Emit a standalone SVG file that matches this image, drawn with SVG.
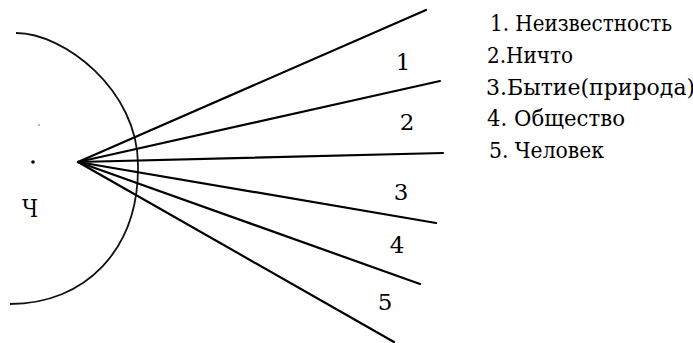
<svg xmlns="http://www.w3.org/2000/svg" width="693" height="343" viewBox="0 0 693 343">
<style>
.ln{stroke:#000;stroke-width:2.2;fill:none;stroke-linecap:round}
.arc{stroke:#111;stroke-width:1.8;fill:none}
text{font-family:'DejaVu Serif','Liberation Serif',serif;fill:#000}
.num{font-size:23px;text-anchor:middle}
.lst{font-size:22px}
</style>
<rect width="693" height="343" fill="#fff"/>
<g id="sphere">
<path class="arc" d="M16,33 C64,33 138,90 138,165 C139,250 85,304 10,304"/>
<circle cx="33" cy="162" r="1.8" fill="#000"/>
<circle cx="39" cy="125" r="0.7" fill="#333"/>
<text x="22" y="217" font-size="25" textLength="16" lengthAdjust="spacingAndGlyphs">Ч</text>
</g>
<g id="rays">
<line class="ln" x1="78" y1="162" x2="426" y2="10"/>
<line class="ln" x1="78" y1="162" x2="440" y2="81"/>
<line class="ln" x1="78" y1="162" x2="443" y2="153"/>
<line class="ln" x1="78" y1="162" x2="436" y2="223"/>
<line class="ln" x1="78" y1="162" x2="420" y2="284"/>
<line class="ln" x1="78" y1="162" x2="394" y2="342"/>
</g>
<g id="numbers">
<text class="num" x="403" y="70">1</text>
<text class="num" x="407" y="130">2</text>
<text class="num" x="401" y="200">3</text>
<text class="num" x="397" y="253">4</text>
<text class="num" x="385" y="310">5</text>
</g>
<g id="legend">
<text class="lst" x="490" y="31" textLength="182" lengthAdjust="spacingAndGlyphs">1. Неизвестность</text>
<text class="lst" x="487" y="63" textLength="86" lengthAdjust="spacingAndGlyphs">2.Ничто</text>
<text class="lst" x="486" y="95" font-size="19">3.Бытие(природа)</text>
<text class="lst" x="487" y="126" textLength="138" lengthAdjust="spacingAndGlyphs">4. Общество</text>
<text class="lst" x="489" y="158" textLength="115" lengthAdjust="spacingAndGlyphs">5. Человек</text>
</g>
</svg>
